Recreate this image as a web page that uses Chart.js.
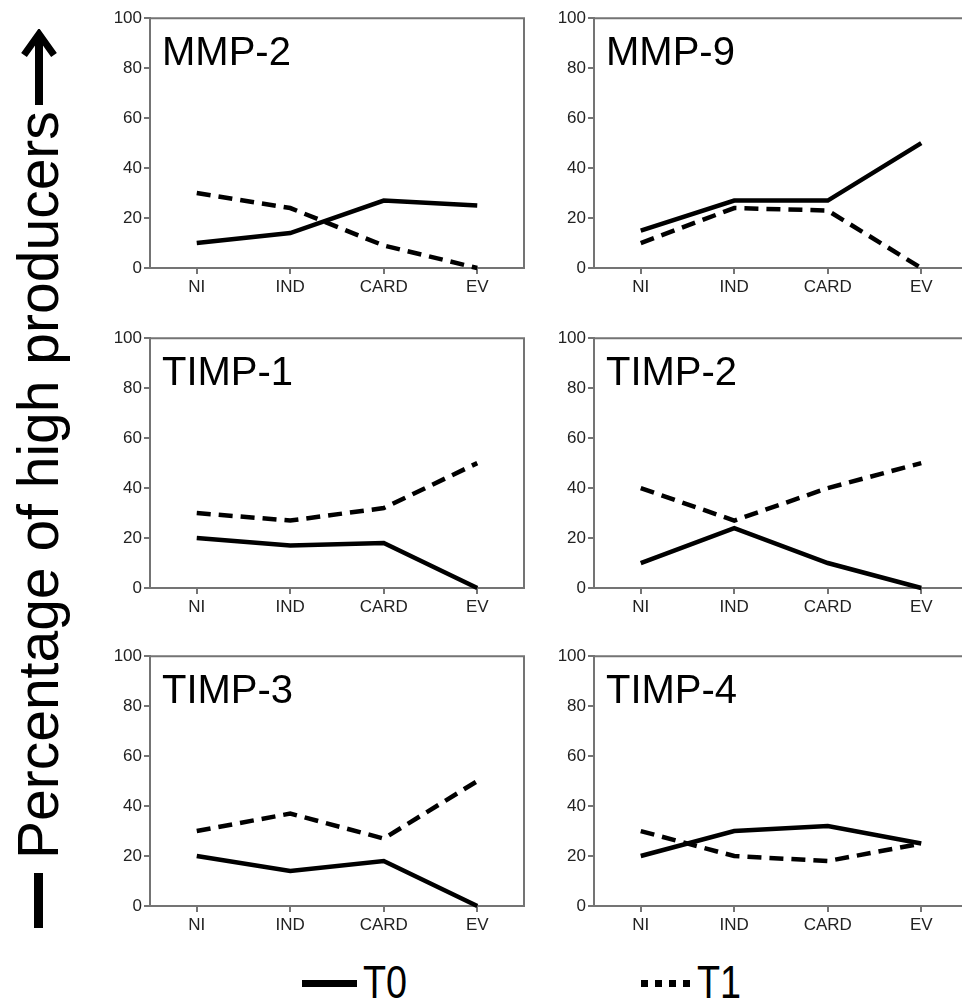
<!DOCTYPE html>
<html>
<head>
<meta charset="utf-8">
<script src="https://cdn.jsdelivr.net/npm/chart.js@4/dist/chart.umd.min.js"></script>
<style>
  html, body { margin: 0; padding: 0; background: #fff; }
  body { width: 962px; height: 999px; overflow: hidden; position: relative; font-family: 'Liberation Sans', Arial, sans-serif; }
  canvas.panel { position: absolute; }
  .ytitle {
    position: absolute; left: 10px; top: 928px;
    transform-origin: 0 0; transform: rotate(-90deg);
    display: flex; align-items: center; height: 57px;
    white-space: nowrap; font-size: 57px; line-height: 57px; color: #000;
  }
  .ytitle .bar { display: inline-block; width: 55px; height: 9px; background: #000; margin-right: 14px; }
  .ytitle svg { margin-left: 6px; }
  .legend-line { position: absolute; top: 980px; height: 7px; }
  .legend-text { position: absolute; top: 959px; font-size: 46px; line-height: 46px; transform: scaleX(0.82); transform-origin: 0 0; color: #000; }
</style>
</head>
<body>

<div class="ytitle"><span class="bar"></span><span>Percentage of high producers</span><svg width="76" height="40" viewBox="0 0 76 40"><line x1="0" y1="20" x2="70" y2="20" stroke="#000" stroke-width="8"/><polyline points="50,5 71,20 50,35" fill="none" stroke="#000" stroke-width="7"/></svg></div>

<canvas class="panel" id="c0" width="426" height="297" style="left:100px;top:6px"></canvas>
<canvas class="panel" id="c1" width="426" height="297" style="left:544px;top:6px"></canvas>
<canvas class="panel" id="c2" width="426" height="297" style="left:100px;top:326px"></canvas>
<canvas class="panel" id="c3" width="426" height="297" style="left:544px;top:326px"></canvas>
<canvas class="panel" id="c4" width="426" height="297" style="left:100px;top:644px"></canvas>
<canvas class="panel" id="c5" width="426" height="297" style="left:544px;top:644px"></canvas>

<div class="legend-line" style="left:302px;width:55px;background:#000"></div>
<div class="legend-text" style="left:363px">T0</div>
<div class="legend-line" style="left:641px;width:49px;background:repeating-linear-gradient(to right,#000 0 7px,transparent 7px 14px)"></div>
<div class="legend-text" style="left:697px">T1</div>

<script>
const categories = ['NI', 'IND', 'CARD', 'EV'];
const yTicks = [0, 20, 40, 60, 80, 100];
const panelNames = ['MMP-2', 'MMP-9', 'TIMP-1', 'TIMP-2', 'TIMP-3', 'TIMP-4'];

const mmp2T0  = [10, 14, 27, 25];
const mmp2T1  = [30, 24, 9, 0];
const mmp9T0  = [15, 27, 27, 50];
const mmp9T1  = [10, 24, 23, 0];
const timp1T0 = [20, 17, 18, 0];
const timp1T1 = [30, 27, 32, 50];
const timp2T0 = [10, 24, 10, 0];
const timp2T1 = [40, 27, 40, 50];
const timp3T0 = [20, 14, 18, 0];
const timp3T1 = [30, 37, 27, 50];
const timp4T0 = [20, 30, 32, 25];
const timp4T1 = [30, 20, 18, 25];

const seriesT0 = [mmp2T0, mmp9T0, timp1T0, timp2T0, timp3T0, timp4T0];
const seriesT1 = [mmp2T1, mmp9T1, timp1T1, timp2T1, timp3T1, timp4T1];

const AXIS = '#747474';
const FONT = "'Liberation Sans', Arial, sans-serif";

// top + right border of the box, and the panel name
const panelDecor = {
  id: 'panelDecor',
  beforeDatasetsDraw(chart) {
    const { ctx, chartArea: a } = chart;
    ctx.save();
    ctx.strokeStyle = AXIS;
    ctx.lineWidth = 2;
    ctx.beginPath();
    ctx.moveTo(a.left, a.top);
    ctx.lineTo(a.right, a.top);
    ctx.lineTo(a.right, a.bottom);
    ctx.stroke();
    ctx.restore();
  },
  afterDraw(chart, args, opts) {
    const { ctx, chartArea: a } = chart;
    ctx.save();
    ctx.fillStyle = '#000';
    ctx.font = '40px ' + FONT;
    ctx.textBaseline = 'alphabetic';
    ctx.fillText(opts.name, a.left + 12, a.top + 47);
    ctx.restore();
  }
};

function renderPanel(i) {
  const canvas = document.getElementById('c' + i);
  new Chart(canvas, {
    type: 'line',
    data: {
      labels: categories,
      datasets: [
        {
          label: 'T0',
          data: seriesT0[i],
          borderColor: '#000',
          borderWidth: 4.5,
          pointRadius: 0,
          tension: 0,
          clip: false,
          borderJoinStyle: 'miter',
        },
        {
          label: 'T1',
          data: seriesT1[i],
          borderColor: '#000',
          borderWidth: 4.5,
          borderDash: [14, 8],
          pointRadius: 0,
          tension: 0,
          clip: false,
          borderJoinStyle: 'miter',
        }
      ]
    },
    options: {
      responsive: false,
      animation: false,
      devicePixelRatio: 1,
      layout: { padding: { top: 12, right: 2, left: 0, bottom: 0 } },
      plugins: {
        legend: { display: false },
        tooltip: { enabled: false },
        panelDecor: { name: panelNames[i] },
      },
      scales: {
        x: {
          offset: true,
          afterFit(scale) { scale.height = 35; },
          grid: { drawOnChartArea: false, drawTicks: true, tickLength: 6, color: AXIS, lineWidth: 2, offset: false },
          border: { display: true, color: AXIS, width: 2 },
          ticks: { color: '#222', padding: 3, maxRotation: 0, font: { size: 17, family: FONT } },
        },
        y: {
          min: 0,
          max: 100,
          afterFit(scale) { scale.width = 50; },
          afterBuildTicks(scale) { scale.ticks = yTicks.map(v => ({ value: v })); },
          grid: { drawOnChartArea: false, drawTicks: true, tickLength: 6, color: AXIS, lineWidth: 2 },
          border: { display: true, color: AXIS, width: 2 },
          ticks: { color: '#222', padding: 2, font: { size: 17, family: FONT } },
        }
      }
    },
    plugins: [panelDecor]
  });
}

for (let i = 0; i < panelNames.length; i++) renderPanel(i);
</script>
</body>
</html>
